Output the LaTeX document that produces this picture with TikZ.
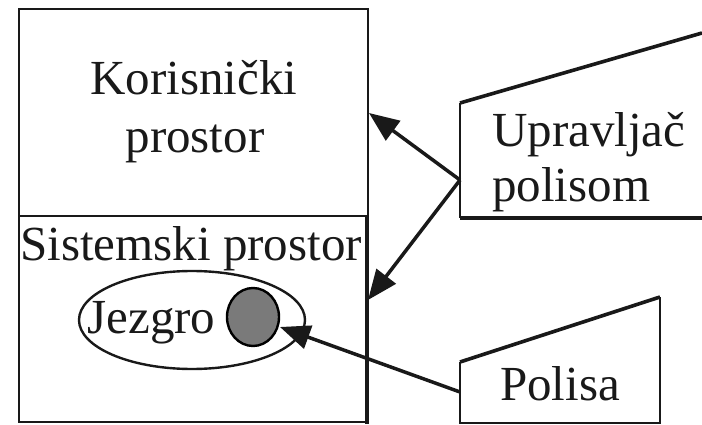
\documentclass[tikz,border=0pt]{standalone}
\usepackage{fontspec}
\setmainfont{Liberation Serif}
\usetikzlibrary{arrows.meta}
\begin{document}
\begin{tikzpicture}[x=1pt,y=-1pt,
  box/.style={line width=2.4pt, draw=black!90},
  thick box/.style={line width=3.6pt, draw=black!90},
  lbl/.style={font=\fontsize{49}{56}\selectfont, inner sep=0pt, text=black!90},
  arr/.style={line width=3.5pt, draw=black!90, -{Triangle[length=30pt,width=24pt]}}]
\useasboundingbox (0,0) rectangle (702,425);
% main boxes
\draw[box] (19,9) rectangle (368,216);
\draw[box] (19,216) -- (19,422) -- (367,422);
\draw[thick box] (367,216) -- (367,424);
% texts in boxes
\node[lbl, anchor=base] (kor) at (194,95) {Korisnički};
\node[lbl, anchor=base] (pro) at (195,153) {prostor};
\node[lbl, anchor=base] (sis) at (191,260) {Sistemski prostor};
% kernel ellipse
\draw[box] (192,320) ellipse [x radius=113, y radius=49];
\node[lbl, anchor=base] (jez) at (151.5,333) {Jezgro};
\draw[line width=2.4pt, fill=black!52] (253,317) ellipse [x radius=26, y radius=29];
% Upravljac polisom shape
\draw[thick box] (702,33) -- (460,103);
\draw[box] (460,103) -- (460,218);
\draw[thick box] (460,218) -- (702,218);
\node[lbl, anchor=base west] (upr) at (492,147) {Upravljač};
\node[lbl, anchor=base west] (pol) at (492,202) {polisom};
% Polisa shape
\draw[thick box] (460,362) -- (660,297);
\draw[box] (660,297) -- (660,423) -- (460,423) -- (460,362);
\node[lbl, anchor=base] (polisa) at (560,400) {Polisa};
% connectors
\coordinate (u) at (460,180);
\coordinate (kin) at (369,113);
\coordinate (sin) at (368,300);
\coordinate (p) at (460,392);
\coordinate (core) at (280,327);
\draw[arr] (u) -- (kin);
\draw[arr] (u) -- (sin);
\draw[arr] (p) -- (core);
\end{tikzpicture}
\end{document}
